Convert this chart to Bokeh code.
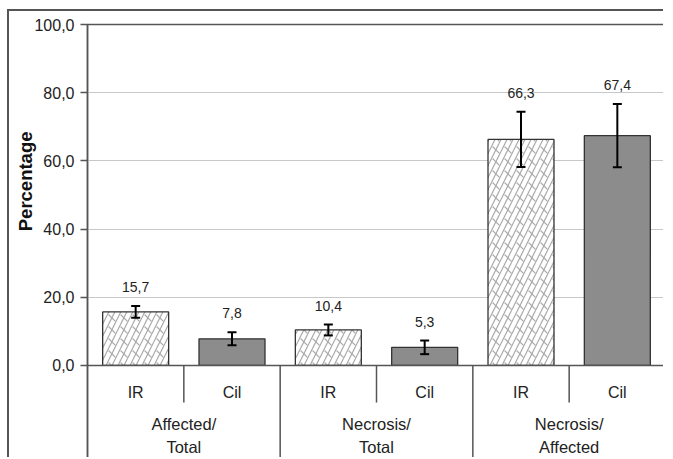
from bokeh.plotting import figure
from bokeh.models import (ColumnDataSource, Whisker, TeeHead, FixedTicker, CustomJSTickFormatter,
                          Title, Span)
from bokeh.core.properties import value
from bokeh.embed import file_html
from bokeh.resources import INLINE

# ---- data ----
groups = ["Affected/\nTotal", "Necrosis/\nTotal", "Necrosis/\nAffected"]
treatments = ["IR", "Cil"]
ir_values = [15.7, 10.4, 66.3]
cil_values = [7.8, 5.3, 67.4]
ir_err = [1.7, 1.6, 8.1]
cil_err = [1.9, 2.0, 9.3]
y_ticks = [0, 20, 40, 60, 80, 100]

FONT = "Liberation Sans"
AX = "#555555"

ir_x = [2 * i + 0.5 for i in range(len(groups))]
cil_x = [2 * i + 1.5 for i in range(len(groups))]

p = figure(width=656, height=448, output_backend="svg", toolbar_location=None,
           x_range=(0, 6), y_range=(-27.6, 100), x_axis_location=None,
           min_border_left=78, min_border_right=0, min_border_top=13, min_border_bottom=0)
p.margin = (9, 0, 0, 7)
p.styles = {"border-left": "2px solid #555555", "border-top": "2px solid #555555"}
p.outline_line_color = AX
p.outline_line_width = 1.5
p.background_fill_color = "white"
p.border_fill_color = "white"

# y axis
p.yaxis.ticker = FixedTicker(ticks=y_ticks)
p.yaxis.formatter = CustomJSTickFormatter(code="return tick.toFixed(1).replace('.', ',');")
p.yaxis.axis_line_color = AX
p.yaxis.axis_line_width = 1.5
p.yaxis.major_tick_line_color = AX
p.yaxis.major_tick_line_width = 1.5
p.yaxis.major_tick_out = 7
p.yaxis.major_tick_in = 0
p.yaxis.minor_tick_line_color = None
p.yaxis.major_label_standoff = 6
p.yaxis.major_label_text_font = FONT
p.yaxis.major_label_text_font_size = "16px"
p.yaxis.major_label_text_color = "#222222"

p.add_layout(Title(text="Percentage", align="right", offset=107, text_font=FONT,
                   text_font_size="18.5px", text_font_style="bold", text_color="#111111",
                   standoff=-8), "left")

p.xgrid.visible = False
p.ygrid.ticker = FixedTicker(ticks=[20, 40, 60, 80])
p.ygrid.grid_line_color = "#c8c8c8"
p.ygrid.grid_line_width = 1

# bars
W = 0.685
p.vbar(x=ir_x, top=ir_values, bottom=0, width=W, fill_color="white", line_color=None)
p.vbar(x=ir_x, top=ir_values, bottom=0, width=W, fill_color=None, line_color=None,
       hatch_pattern="right_diagonal_line", hatch_color="#a8a8a8", hatch_scale=12, hatch_weight=1.2)
p.vbar(x=ir_x, top=ir_values, bottom=0, width=W, fill_color=None, line_color=None,
       hatch_pattern="left_diagonal_dash", hatch_color="#a8a8a8", hatch_scale=12, hatch_weight=1.2)
p.vbar(x=ir_x, top=ir_values, bottom=0, width=W, fill_color=None, line_color="#333333", line_width=1.3)
p.vbar(x=cil_x, top=cil_values, bottom=0, width=W, fill_color="#8c8c8c", line_color="#333333", line_width=1.3)

# error bars
xs = ir_x + cil_x
vals = ir_values + cil_values
errs = ir_err + cil_err
src = ColumnDataSource(dict(x=xs, upper=[v + e for v, e in zip(vals, errs)],
                            lower=[v - e for v, e in zip(vals, errs)],
                            lab=[f"{v:.1f}".replace(".", ",") for v in vals]))
p.add_layout(Whisker(base="x", upper="upper", lower="lower", source=src, level="annotation",
                     line_color="black", line_width=2,
                     upper_head=TeeHead(size=9, line_color="black", line_width=2),
                     lower_head=TeeHead(size=9, line_color="black", line_width=2)))

# value labels
p.text(x="x", y="upper", text="lab", source=src, text_align="center", text_baseline="bottom",
       y_offset=-14, text_font=value(FONT), text_font_size="14px", text_color="#222222")

# x axis line and category structure
p.add_layout(Span(location=0, dimension="width", line_color=AX, line_width=1.5))
p.segment(x0=[1, 3, 5], y0=0, x1=[1, 3, 5], y1=-10.9, line_color=AX, line_width=1.5)
p.segment(x0=[2, 4], y0=0, x1=[2, 4], y1=-27.6, line_color=AX, line_width=1.5)

sub_x = sorted(ir_x + cil_x)
sub_lab = [treatments[i % 2] for i in range(len(sub_x))]
p.text(x=sub_x, y=-7.9, text=sub_lab, text_align="center", text_baseline="middle",
       text_font=value(FONT), text_font_size="16px", text_color="#222222")
p.text(x=[2 * i + 1 for i in range(len(groups))], y=-20.6, text=groups, text_align="center",
       text_baseline="middle", text_line_height=1.25,
       text_font=value(FONT), text_font_size="16.5px", text_color="#222222")

open("out.html", "w").write(file_html(p, INLINE))
